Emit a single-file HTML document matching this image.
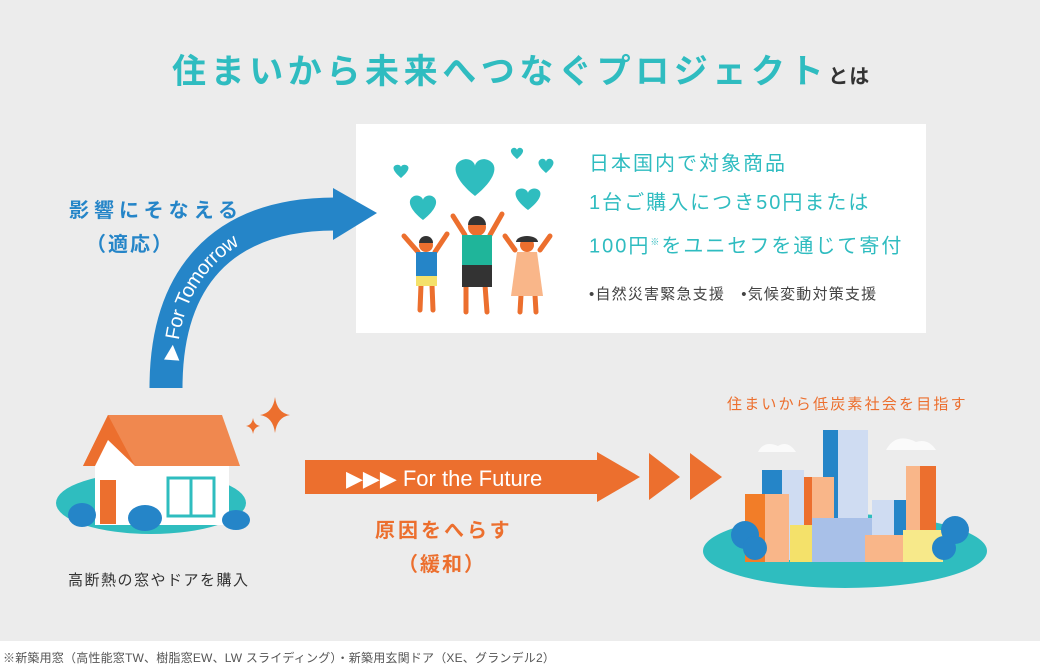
<!DOCTYPE html>
<html><head><meta charset="utf-8"><style>
*{margin:0;padding:0}
body{width:1040px;height:671px;background:#fff;position:relative;overflow:hidden;font-family:"Liberation Sans","Noto Sans CJK JP",sans-serif}
.bg{position:absolute;left:0;top:0;width:1040px;height:641px;background:#ececec}
.t{position:absolute;white-space:nowrap}
</style></head><body>
<div class="bg"></div>
<div class="t" style="left:172px;top:44px;font-size:34px;font-weight:bold;color:#2fbcc0;letter-spacing:4.6px">住まいから未来へつなぐプロジェクト<span style="font-size:20px;color:#333;letter-spacing:1px">とは</span></div>
<div style="position:absolute;left:356px;top:124px;width:570px;height:209px;background:#fff"></div>
<svg width="1040" height="671" style="position:absolute;left:0;top:0">
<path d="M166,388 C166,280 220,214 335,214" fill="none" stroke="#2585c8" stroke-width="33"/>
<polygon points="333,188 377,213 333,240" fill="#2585c8"/>
<path id="tp" d="M170,362 C172,280 222,222 320,214" fill="none"/>
<text font-family="Liberation Sans" font-size="20" fill="#fff" dy="7"><textPath href="#tp" startOffset="2">▶ For Tomorrow</textPath></text>
<rect x="305" y="460" width="293" height="34" fill="#ec6f2e"/>
<polygon points="597,452 640,477 597,502" fill="#ec6f2e"/>
<polygon points="649,453 680,477 649,500" fill="#ec6f2e"/>
<polygon points="690,453 722,477 690,500" fill="#ec6f2e"/>
<text x="346" y="486" font-family="Liberation Sans" font-size="22" fill="#fff">▶▶▶ For the Future</text>
<ellipse cx="151" cy="503" rx="95" ry="31" fill="#2fbdbf"/>
<rect x="95" y="465" width="134" height="60" fill="#fff"/>
<polygon points="83,466 108,415 222,415 240,466" fill="#f0884f"/>
<polygon points="83,466 108,415 135,466" fill="#ec6f2e"/>
<polygon points="95,466 108,440 135,466" fill="#fff"/>
<rect x="100" y="480" width="16" height="44" fill="#ec6f2e"/>
<rect x="168" y="478" width="46" height="38" fill="none" stroke="#2fbdbf" stroke-width="3"/>
<line x1="191" y1="478" x2="191" y2="516" stroke="#2fbdbf" stroke-width="3"/>
<ellipse cx="82" cy="515" rx="14" ry="12" fill="#2585c8"/>
<ellipse cx="145" cy="518" rx="17" ry="13" fill="#2585c8"/>
<ellipse cx="236" cy="520" rx="14" ry="10" fill="#2585c8"/>
<path d="M275,397 Q277,413 290,415 Q277,417 275,433 Q273,417 260,415 Q273,413 275,397Z" fill="#ec6f2e"/>
<path d="M253,418 Q254,425 260,426 Q254,427 253,434 Q252,427 246,426 Q252,425 253,418Z" fill="#ec6f2e"/>
<ellipse cx="845" cy="551" rx="142" ry="37" fill="#2fbdbf"/>
<path d="M758,452 q6,-12 20,-6 q10,-6 18,6z" fill="#fafafa"/>
<path d="M886,450 q10,-18 30,-8 q12,-4 20,8z" fill="#fafafa"/>
<rect x="823" y="430" width="38" height="130" fill="#2585c8"/>
<rect x="838" y="430" width="30" height="130" fill="#cfdcf2"/>
<rect x="762" y="470" width="20" height="60" fill="#2585c8"/>
<rect x="782" y="470" width="22" height="90" fill="#cfdcf2"/>
<rect x="745" y="494" width="20" height="68" fill="#f27d28"/>
<rect x="765" y="494" width="24" height="68" fill="#f9b689"/>
<rect x="804" y="477" width="12" height="85" fill="#ec6f2e"/>
<rect x="812" y="477" width="22" height="85" fill="#f9b689"/>
<rect x="790" y="525" width="24" height="37" fill="#f4e16a"/>
<rect x="812" y="518" width="60" height="44" fill="#a8c0e8"/>
<rect x="872" y="500" width="30" height="35" fill="#cfdcf2"/>
<rect x="894" y="500" width="12" height="35" fill="#2585c8"/>
<rect x="906" y="466" width="30" height="96" fill="#f9b689"/>
<rect x="920" y="466" width="16" height="96" fill="#ec6f2e"/>
<rect x="865" y="535" width="40" height="27" fill="#f9b689"/>
<rect x="903" y="530" width="40" height="32" fill="#f7e98a"/>
<circle cx="745" cy="535" r="14" fill="#2585c8"/><circle cx="755" cy="548" r="12" fill="#2585c8"/>
<circle cx="955" cy="530" r="14" fill="#2585c8"/><circle cx="944" cy="548" r="12" fill="#2585c8"/>
<g fill="#2fbdbf">
<path d="M475,196 C455,180 450,165 462,160 C470,157 475,163 475,166 C475,163 480,157 488,160 C500,165 495,180 475,196Z"/>
<path d="M423,220 C410,210 406,200 414,196 C419,194 423,198 423,200 C423,198 427,194 432,196 C440,200 436,210 423,220Z"/>
<path d="M401,178 C394,172 391,167 396,165 C399,164 401,166 401,167 C401,166 403,164 406,165 C411,167 408,172 401,178Z"/>
<path d="M528,210 C516,201 512,192 519,189 C524,187 528,191 528,193 C528,191 532,187 537,189 C544,192 540,201 528,210Z"/>
<path d="M517,159 C511,154 509,150 513,148 C515,147 517,149 517,150 C517,149 519,147 521,148 C525,150 523,154 517,159Z"/>
<path d="M546,173 C539,167 536,162 541,159 C544,158 546,160 546,162 C546,160 548,158 551,159 C556,162 553,167 546,173Z"/>
</g>
<g stroke="#ec6f2e" stroke-width="5" stroke-linecap="round">
<line x1="418" y1="252" x2="404" y2="236"/><line x1="435" y1="252" x2="447" y2="234"/>
<line x1="465" y1="235" x2="453" y2="216"/><line x1="490" y1="235" x2="502" y2="214"/>
<line x1="515" y1="250" x2="505" y2="236"/><line x1="540" y1="250" x2="550" y2="236"/>
<line x1="421" y1="285" x2="420" y2="310"/><line x1="432" y1="285" x2="433" y2="310"/>
<line x1="466" y1="285" x2="466" y2="312"/><line x1="485" y1="285" x2="487" y2="312"/>
<line x1="521" y1="295" x2="520" y2="312"/><line x1="535" y1="295" x2="536" y2="312"/>
</g>
<circle cx="426" cy="245" r="7" fill="#ec6f2e"/><path d="M419,243 a7,7 0 0 1 14,0z" fill="#333"/>
<rect x="416" y="252" width="21" height="24" fill="#2585c8"/><rect x="416" y="276" width="21" height="10" fill="#f4e16a"/>
<circle cx="477" cy="227" r="9" fill="#ec6f2e"/><path d="M468,225 a9,9 0 0 1 18,0z" fill="#333"/>
<rect x="462" y="235" width="30" height="30" fill="#1fb59a"/><rect x="462" y="265" width="30" height="22" fill="#333"/>
<circle cx="527" cy="245" r="7" fill="#ec6f2e"/><path d="M516,242 a11,6 0 0 1 22,0z" fill="#333"/>
<path d="M517,252 L537,252 L543,296 L511,296Z" fill="#f9b689"/>
</svg>
<div class="t" style="left:69px;top:194px;font-size:20px;font-weight:bold;color:#2585c8;letter-spacing:5px">影響にそなえる</div>
<div class="t" style="left:86px;top:228px;font-size:20px;font-weight:bold;color:#2585c8;letter-spacing:2px">（適応）</div>
<div class="t" style="left:68px;top:569px;font-size:15px;color:#333;letter-spacing:1.5px">高断熱の窓やドアを購入</div>
<div class="t" style="left:375px;top:514px;font-size:20px;font-weight:bold;color:#ec6f2e;letter-spacing:3px">原因をへらす</div>
<div class="t" style="left:398px;top:548px;font-size:20px;font-weight:bold;color:#ec6f2e;letter-spacing:2px">（緩和）</div>
<div class="t" style="left:727px;top:393px;font-size:15px;color:#ec6f2e;letter-spacing:2.2px">住まいから低炭素社会を目指す</div>
<div class="t" style="left:589px;top:145px;font-size:20px;color:#2fbcc0;line-height:39px;letter-spacing:2px">日本国内で対象商品<br>1台ご購入につき50円または<br>100円<sup style="font-size:9px">※</sup>をユニセフを通じて寄付</div>
<div class="t" style="left:589px;top:283px;font-size:15px;color:#444;letter-spacing:1.2px">•自然災害緊急支援　•気候変動対策支援</div>
<div class="t" style="left:3px;top:649px;font-size:12px;color:#555;letter-spacing:0.2px">※新築用窓（高性能窓TW、樹脂窓EW、LW スライディング）・新築用玄関ドア（XE、グランデル2）</div>
</body></html>
